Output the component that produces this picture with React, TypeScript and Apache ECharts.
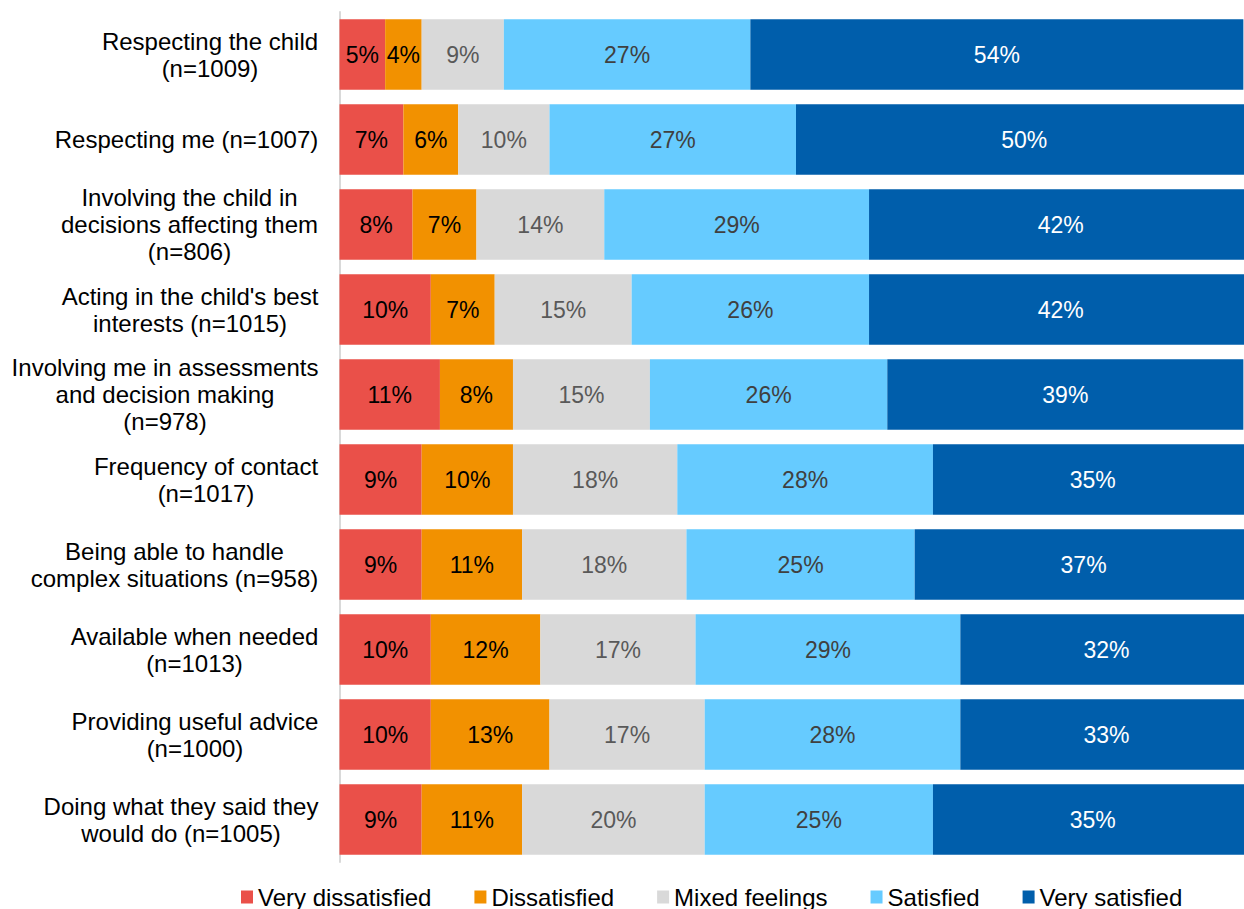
import React, { useEffect, useRef } from "react";
import * as echarts from "echarts";

const categories = [
  "Respecting the child\n(n=1009)",
  "Respecting me (n=1007)",
  "Involving the child in\ndecisions affecting them\n(n=806)",
  "Acting in the child's best\ninterests (n=1015)",
  "Involving me in assessments\nand decision making\n(n=978)",
  "Frequency of contact\n(n=1017)",
  "Being able to handle\ncomplex situations (n=958)",
  "Available when needed\n(n=1013)",
  "Providing useful advice\n(n=1000)",
  "Doing what they said they\nwould do (n=1005)",
];

const seriesNames = ["Very dissatisfied", "Dissatisfied", "Mixed feelings", "Satisfied", "Very satisfied"];

const veryDissatisfied = [5, 7, 8, 10, 11, 9, 9, 10, 10, 9];
const dissatisfied = [4, 6, 7, 7, 8, 10, 11, 12, 13, 11];
const mixedFeelings = [9, 10, 14, 15, 15, 18, 18, 17, 17, 20];
const satisfied = [27, 27, 29, 26, 26, 28, 25, 29, 28, 25];
const verySatisfied = [54, 50, 42, 42, 39, 35, 37, 32, 33, 35];

const colors = ["#EA5049", "#F29100", "#D9D9D9", "#66CBFF", "#005EAB"];
const labelColors = ["#000000", "#000000", "#595959", "#404040", "#FFFFFF"];

const FONT = "'Liberation Sans', Arial, sans-serif";
const CAT_FONT_SIZE = 24;

function measureWidest(text: string): number {
  const canvas = document.createElement("canvas");
  const ctx = canvas.getContext("2d");
  if (!ctx) return 0;
  ctx.font = `${CAT_FONT_SIZE}px ${FONT}`;
  return Math.max(...text.split("\n").map((l) => ctx.measureText(l).width));
}

export default function App() {
  const ref = useRef<HTMLDivElement>(null);
  useEffect(() => {
    if (!ref.current) return;
    const chart = echarts.init(ref.current, null, { renderer: "svg" });
    const all = [veryDissatisfied, dissatisfied, mixedFeelings, satisfied, verySatisfied];
    const catData = categories.map((c) => {
      const w = Math.ceil(measureWidest(c));
      return { value: c, textStyle: { align: "center", padding: [0, w, 0, 0] } };
    });
    chart.setOption({
      animation: false,
      textStyle: { fontFamily: FONT },
      grid: { left: 339.5, right: 0.5, top: 12, height: 850, containLabel: false },
      xAxis: { type: "value", min: 0, max: 100, show: false },
      yAxis: {
        type: "category",
        inverse: true,
        data: catData,
        axisLine: { show: true, lineStyle: { color: "#D9D9D9", width: 2 } },
        axisTick: { show: false },
        axisLabel: {
          interval: 0,
          fontSize: CAT_FONT_SIZE,
          color: "#000",
          margin: 21,
          lineHeight: 27,
          fontFamily: FONT,
        },
      },
      legend: {
        left: 241,
        top: 885,
        padding: 0,
        itemWidth: 12,
        itemHeight: 13,
        itemGap: 43,
        icon: "rect",
        textStyle: { fontSize: 24, color: "#000", fontFamily: FONT },
        data: seriesNames,
      },
      series: all.map((arr, si) => ({
        name: seriesNames[si],
        type: "bar",
        stack: "total",
        barCategoryGap: "17%",
        itemStyle: { color: colors[si] },
        label: {
          show: true,
          position: "inside",
          fontSize: 23,
          fontFamily: FONT,
          color: labelColors[si],
          formatter: (p: any) => p.value + "%",
        },
        data: arr,
      })),
    });
    return () => chart.dispose();
  }, []);
  return (
    <div style={{ position: "absolute", left: 0, top: 0, width: 1244, height: 909, overflow: "hidden" }}>
      <div ref={ref} style={{ position: "absolute", left: 0, top: 0, width: 1253, height: 909 }} />
    </div>
  );
}
